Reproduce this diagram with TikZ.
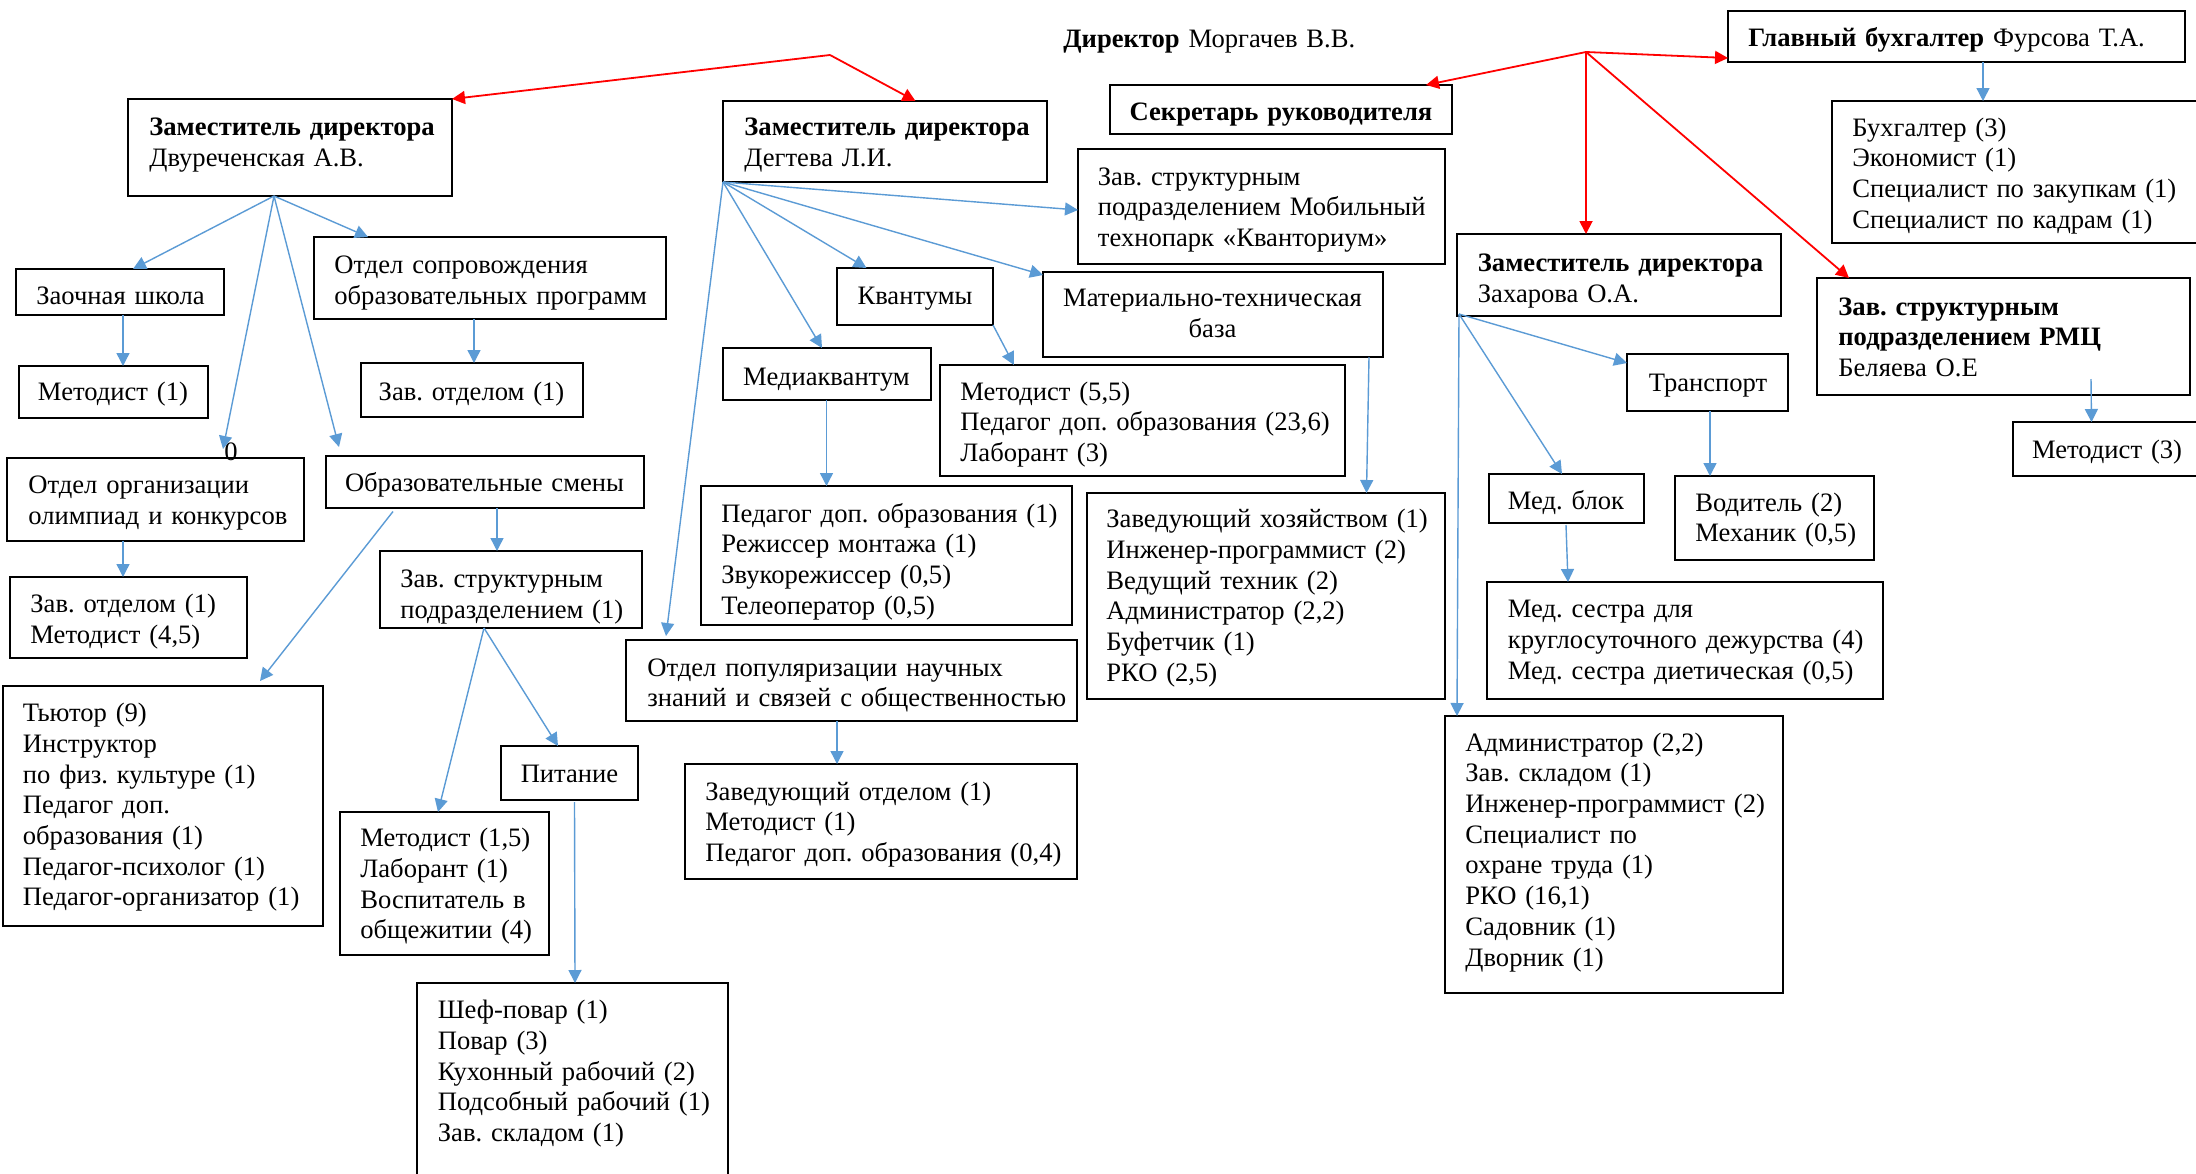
\documentclass[tikz,border=0pt]{standalone}
\usepackage{fontspec}
\setmainfont{Liberation Serif}
\usetikzlibrary{arrows.meta,calc,fit}
\definecolor{bl}{HTML}{5B9BD5}
\definecolor{rd}{HTML}{FF0000}
\newcommand\dfont{\fontsize{13.3}{15.35}\selectfont\frenchspacing}
\begin{document}
\begin{tikzpicture}[x=0.5pt,y=-0.5pt,
  box/.style={draw=black, line width=0.75pt, inner sep=0pt, outer sep=0pt},
  txt/.style={inner sep=0pt, text width=400pt, align=left, anchor=base west, font=\dfont, yshift=-0.8pt},
  ctxt/.style={inner sep=0pt, text width=400pt, align=center, anchor=base, font=\dfont, yshift=-0.8pt},
  barr/.style={draw=bl, line width=0.7pt, -{Triangle[length=6.5pt,width=6.5pt]}},
  rarr/.style={draw=rd, line width=0.9pt, -{Triangle[length=6.5pt,width=6.5pt]}},
]
\useasboundingbox[fill=white] (0,0) rectangle (2196,1173);

% ---------- boxes ----------
\node[box, fit={(128,99) (452,196)}] (dvur) {};
\node[box, fit={(723,101) (1047,182)}] (deg) {};
\node[box, fit={(1110,85) (1452,134)}] (sec) {};
\node[box, fit={(1728,11) (2185,62)}] (gb) {};
\node[box, fit={(1832,101) (2210,243)}] (buh) {};
\node[box, fit={(1078,149) (1445,264)}] (mob) {};
\node[box, fit={(1457,234) (1781,316)}] (zakh) {};
\node[box, fit={(1817,278) (2190,395)}] (rmc) {};
\node[box, fit={(2013,422) (2201,476)}] (met3) {};
\node[box, fit={(16,269) (224,315)}] (zaoch) {};
\node[box, fit={(314,237) (666,319)}] (sopr) {};
\node[box, fit={(19,366) (208,418)}] (met1) {};
\node[box, fit={(361,363) (583,417)}] (zavot) {};
\node[box, fit={(7,458) (304,541)}] (olymp) {};
\node[box, fit={(326,456) (644,508)}] (smeny) {};
\node[box, fit={(10,577) (247,658)}] (zavot2) {};
\node[box, fit={(3,686) (323,926)}] (tyutor) {};
\node[box, fit={(380,551) (642,628)}] (zavstr) {};
\node[box, fit={(501,746) (638,800)}] (pit) {};
\node[box, fit={(340,812) (549,955)}] (met15) {};
\node[box, fit={(417,983) (728,1190)}] (shef) {};
\node[box, fit={(837,268) (993,325)}] (kvant) {};
\node[box, fit={(1043,272) (1383,357)}] (mater) {};
\node[box, fit={(723,348) (931,400)}] (media) {};
\node[box, fit={(940,365) (1345,476)}] (met55) {};
\node[box, fit={(701,486) (1072,625)}] (ped) {};
\node[box, fit={(626,640) (1077,721)}] (popul) {};
\node[box, fit={(685,764) (1077,879)}] (zavotd3) {};
\node[box, fit={(1087,493) (1445,699)}] (khoz) {};
\node[box, fit={(1627,354) (1788,411)}] (transp) {};
\node[box, fit={(1489,474) (1644,523)}] (medb) {};
\node[box, fit={(1675,476) (1874,560)}] (vod) {};
\node[box, fit={(1487,582) (1883,699)}] (medses) {};
\node[box, fit={(1445,716) (1783,993)}] (admin) {};

% ---------- texts ----------
\node[txt] (dir-t) at (1063,46) {\textbf{Директор} Моргачев В.В.};
\node[txt] (dvur-t) at (149,134) {\textbf{Заместитель директора}\\Двуреченская А.В.};
\node[txt] (deg-t) at (744,134) {\textbf{Заместитель директора}\\Дегтева Л.И.};
\node[ctxt] (sec-t) at (1281,119) {\textbf{Секретарь руководителя}};
\node[txt] (gb-t) at (1748,45) {\textbf{Главный бухгалтер} Фурсова Т.А.};
\node[txt] (buh-t) at (1852,134.5) {Бухгалтер (3)\\Экономист (1)\\Специалист по закупкам (1)\\Специалист по кадрам (1)};
\node[txt] (mob-t) at (1097.5,183.5) {Зав. структурным\\подразделением Мобильный\\технопарк «Кванториум»};
\node[txt] (zakh-t) at (1477.5,270) {\textbf{Заместитель директора}\\Захарова О.А.};
\node[txt] (rmc-t) at (1838,313.5) {\textbf{Зав. структурным}\\\textbf{подразделением РМЦ}\\Беляева О.Е};
\node[ctxt] (met3-t) at (2107,457) {Методист (3)};
\node[ctxt] (zaoch-t) at (120.5,303) {Заочная школа};
\node[txt] (sopr-t) at (334,272) {Отдел сопровождения\\образовательных программ};
\node[ctxt] (met1-t) at (113,398.5) {Методист (1)};
\node[ctxt] (zavot-t) at (471.5,399) {Зав. отделом (1)};
\node[txt] (olymp-t) at (28,492) {Отдел организации\\олимпиад и конкурсов};
\node[ctxt] (smeny-t) at (484.5,490) {Образовательные смены};
\node[txt] (zavot2-t) at (30,611) {Зав. отделом (1)\\Методист (4,5)};
\node[txt] (tyutor-t) at (22.5,720) {Тьютор (9)\\Инструктор\\по физ. культуре (1)\\Педагог доп.\\образования (1)\\Педагог-психолог (1)\\Педагог-организатор (1)};
\node[txt] (zavstr-t) at (400,586) {Зав. структурным\\подразделением (1)};
\node[ctxt] (pit-t) at (569.5,781) {Питание};
\node[txt] (met15-t) at (360,845) {Методист (1,5)\\Лаборант (1)\\Воспитатель в\\общежитии (4)};
\node[txt] (shef-t) at (437.5,1017) {Шеф-повар (1)\\Повар (3)\\Кухонный рабочий (2)\\Подсобный рабочий (1)\\Зав. складом (1)};
\node[ctxt] (kvant-t) at (915,303) {Квантумы};
\node[ctxt] (mater-t) at (1212.5,305) {Материально-техническая\\база};
\node[ctxt] (media-t) at (826.5,383.5) {Медиаквантум};
\node[txt] (met55-t) at (960,398.5) {Методист (5,5)\\Педагог доп. образования (23,6)\\Лаборант (3)};
\node[txt] (ped-t) at (721,520.5) {Педагог доп. образования (1)\\Режиссер монтажа (1)\\Звукорежиссер (0,5)\\Телеоператор (0,5)};
\node[txt] (popul-t) at (647,674.5) {Отдел популяризации научных\\знаний и связей с общественностью};
\node[txt] (zavotd3-t) at (705,798.5) {Заведующий отделом (1)\\Методист (1)\\Педагог доп. образования (0,4)};
\node[txt] (khoz-t) at (1106,526) {Заведующий хозяйством (1)\\Инженер-программист (2)\\Ведущий техник (2)\\Администратор (2,2)\\Буфетчик (1)\\РКО (2,5)};
\node[ctxt] (transp-t) at (1708,390) {Транспорт};
\node[ctxt] (medb-t) at (1566,508) {Мед. блок};
\node[txt] (vod-t) at (1695,509.5) {Водитель (2)\\Механик (0,5)};
\node[txt] (medses-t) at (1507.5,616) {Мед. сестра для\\круглосуточного дежурства (4)\\Мед. сестра диетическая (0,5)};
\node[txt] (admin-t) at (1465,749.5) {Администратор (2,2)\\Зав. складом (1)\\Инженер-программист (2)\\Специалист по\\охране труда (1)\\РКО (16,1)\\Садовник (1)\\Дворник (1)};
\node[ctxt] (zero-t) at (231,459) {0};

% ---------- red connectors ----------
\coordinate (dirL) at (830,55);
\coordinate (dirR) at (1586,52);
\draw[rarr] (dirL) -- (dvur.north east);
\draw[rarr] (dirL) -- ($(deg.north west)+(192.5,0)$);
\draw[rarr] (dirR) -- ($(sec.north east)+(-26,0)$);
\draw[rarr] (dirR) -- ($(gb.south west)+(0,-4)$);
\draw[rarr] (dirR) -- ($(zakh.north west)+(129,0)$);
\draw[rarr] (dirR) -- ($(rmc.north west)+(32,0)$);

% ---------- blue connectors ----------
\draw[barr] ($(dvur.south west)+(146,0)$) -- ($(zaoch.north west)+(117,0)$);
\draw[barr] ($(dvur.south west)+(146,0)$) -- ($(sopr.north west)+(54,0)$);
\draw[barr] ($(dvur.south west)+(146,0)$) -- ($(olymp.north west)+(216,-9)$);
\draw[barr] ($(dvur.south west)+(146,0)$) -- ($(smeny.north west)+(13,-9)$);
\draw[barr] ($(zaoch.south west)+(107,0)$) -- ($(met1.north west)+(104,0)$);
\draw[barr] ($(sopr.south west)+(160,0)$) -- ($(zavot.north west)+(113,0)$);
\draw[barr] ($(olymp.south west)+(116,0)$) -- ($(zavot2.north west)+(113,0)$);
\draw[barr] ($(smeny.south west)+(67,3.5)$) -- ($(tyutor.north west)+(257,-5)$);
\draw[barr] ($(smeny.south west)+(171,0)$) -- ($(zavstr.north west)+(117,0)$);
\draw[barr] ($(zavstr.south west)+(104,0)$) -- ($(met15.north west)+(98,0)$);
\draw[barr] ($(zavstr.south west)+(104,0)$) -- ($(pit.north west)+(57,0)$);
\draw[barr] ($(pit.south west)+(73.5,2)$) -- ($(shef.north west)+(158,0)$);

\draw[barr] (deg.south west) -- ($(mob.north west)+(0,61)$);
\draw[barr] (deg.south west) -- ($(kvant.north west)+(29.5,0)$);
\draw[barr] (deg.south west) -- ($(mater.north west)+(0,3)$);
\draw[barr] (deg.south west) -- ($(media.north west)+(99,0)$);
\draw[barr] (deg.south west) -- ($(popul.north west)+(40,-4)$);
\draw[barr] (kvant.south east) -- ($(met55.north west)+(74,0)$);
\draw[barr] ($(media.south west)+(103.5,0)$) -- ($(ped.north west)+(125.5,0)$);
\draw[barr] ($(mater.south west)+(326,0)$) -- ($(khoz.north west)+(279.5,0)$);
\draw[barr] ($(popul.south west)+(211,0)$) -- ($(zavotd3.north west)+(152,0)$);

\draw[barr] ($(gb.south west)+(255,0)$) -- ($(buh.north west)+(151,0)$);
\draw[barr] ($(zakh.south west)+(2,-2)$) -- ($(transp.north west)+(0,9)$);
\draw[barr] ($(zakh.south west)+(2,-2)$) -- ($(medb.north west)+(73,0)$);
\draw[barr] ($(zakh.south west)+(2,-2)$) -- ($(admin.north west)+(12,0)$);
\draw[barr] ($(transp.south west)+(83,0)$) -- ($(vod.north west)+(35,0)$);
\draw[barr] ($(medb.south west)+(77,2)$) -- ($(medses.north west)+(81,0)$);
\draw[barr] ($(rmc.south west)+(274,-16)$) -- ($(met3.north west)+(78.5,0)$);
\end{tikzpicture}
\end{document}
